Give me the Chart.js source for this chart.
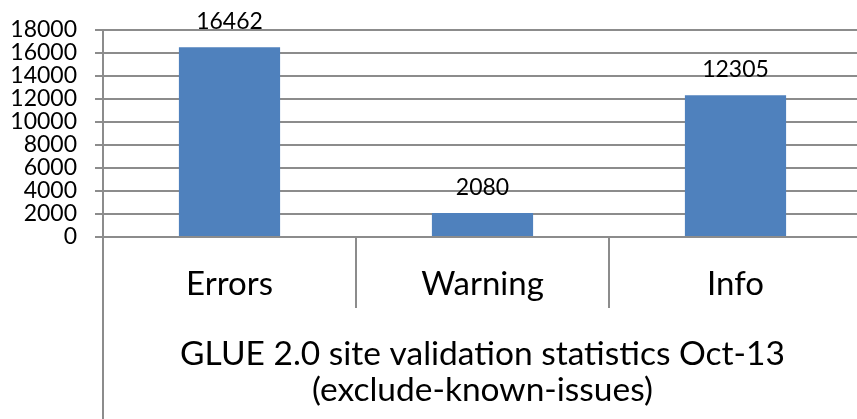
<!DOCTYPE html>
<html>
<head>
<meta charset="utf-8">
<script src="https://cdn.jsdelivr.net/npm/chart.js@4.4.0/dist/chart.umd.min.js"></script>
<style>
  html, body { margin: 0; padding: 0; overflow: hidden; background: #fff; }
  #wrap { width: 862px; height: 419px; }
</style>
</head>
<body>
<div id="wrap"><canvas id="chartView"></canvas></div>
<script>
var categories = ['Errors', 'Warning', 'Info'];
var counts = [16462, 2080, 12305];
var titleLines = ['GLUE 2.0 site validation statistics Oct-13', '(exclude-known-issues)'];
var yMax = 18000;
var yStep = 2000;

var gridColor = '#8c8c8c';

// value labels over the bars + the left axis line that runs down to the bottom
var extras = {
    id: 'extras',
    afterDraw: function (chart) {
        var ctx = chart.ctx;
        var area = chart.chartArea;
        ctx.save();
        ctx.strokeStyle = gridColor;
        ctx.lineWidth = 2;
        ctx.beginPath();
        ctx.moveTo(area.left, area.bottom);
        ctx.lineTo(area.left, chart.height);
        ctx.stroke();

        ctx.font = '23px Lato';
        ctx.fillStyle = '#000';
        ctx.textAlign = 'center';
        ctx.textBaseline = 'alphabetic';
        chart.getDatasetMeta(0).data.forEach(function (bar, i) {
            ctx.fillText(String(counts[i]), bar.x, bar.y - 18);
        });
        ctx.restore();
    }
};

var ctx = document.getElementById('chartView').getContext('2d');
new Chart(ctx, {
    type: 'bar',
    data: {
        labels: categories,
        datasets: [{
            data: counts,
            backgroundColor: '#4f81bd',
            borderWidth: 0,
            categoryPercentage: 1,
            barPercentage: 0.4
        }]
    },
    options: {
        responsive: true,
        maintainAspectRatio: false,
        animation: false,
        layout: { padding: { left: 0, top: 16, right: 0, bottom: 0 } },
        plugins: {
            legend: { display: false },
            tooltip: { enabled: false }
        },
        scales: {
            x: {
                offset: true,
                afterFit: function (scale) { scale.height = 182; },
                grid: {
                    offset: true,
                    drawOnChartArea: false,
                    drawTicks: true,
                    tickLength: 71,
                    color: gridColor,
                    lineWidth: 2
                },
                border: { display: false },
                ticks: {
                    color: '#000',
                    font: { family: 'Lato', size: 33, lineHeight: 1 },
                    padding: -40,
                    maxRotation: 0
                },
                title: {
                    display: true,
                    text: titleLines,
                    color: '#000',
                    font: { family: 'Lato', size: 33.5, lineHeight: 1.08 },
                    padding: { top: 10, bottom: 11 }
                }
            },
            y: {
                min: 0,
                max: yMax,
                afterFit: function (scale) { scale.width = 103; },
                grid: {
                    color: gridColor,
                    lineWidth: 2,
                    tickLength: 8
                },
                border: { display: true, color: gridColor, width: 2 },
                ticks: {
                    stepSize: yStep,
                    autoSkip: false,
                    color: '#000',
                    padding: 18,
                    font: { family: 'Lato', size: 23, lineHeight: 1 },
                    callback: function (v) { return String(v); }
                }
            }
        }
    },
    plugins: [extras]
});
</script>
</body>
</html>
